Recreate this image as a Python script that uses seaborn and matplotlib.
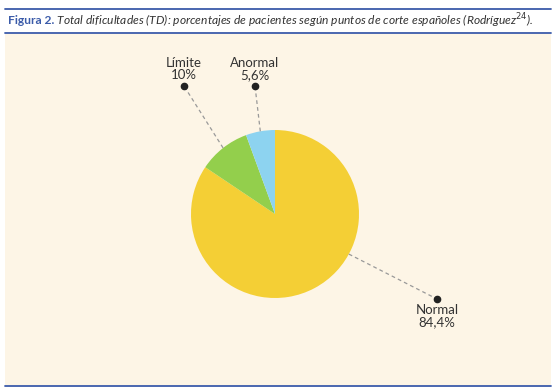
import numpy as np
import matplotlib
matplotlib.use("Agg")
import matplotlib.pyplot as plt
from matplotlib.lines import Line2D
from matplotlib.patches import Rectangle
import seaborn as sns

sns.set_theme(style="white")
plt.rcParams['font.family'] = ['Lato', 'DejaVu Sans']

# data
categories = ['Normal', 'Límite', 'Anormal']
values = [84.4, 10.0, 5.6]
value_labels = ['84,4%', '10%', '5,6%']
colors = ['#F4CF35', '#93CF4C', '#8DD3F0']

title_bold = 'Figura 2.'
title_rest = ' Total dificultades (TD): porcentajes de pacientes según puntos de corte españoles (Rodríguez$^{24}$).'

W, H = 557, 392
fig = plt.figure(figsize=(W / 100, H / 100), dpi=100)
fig.patch.set_facecolor('white')

blue = '#3B5BA9'
# cream panel and rules (pixel coords from top)
fig.add_artist(Rectangle((5 / W, 1 - 385 / H), 546 / W, 351 / H, transform=fig.transFigure,
                         facecolor='#FDF5E6', edgecolor='none', zorder=0))
for yy in [9, 33, 386]:
    fig.add_artist(Line2D([5 / W, 551 / W], [1 - yy / H, 1 - yy / H], color=blue, lw=1.3))

# title: shrink font so it spans roughly 8..533 px like the reference
fs = 9.5
t1 = fig.text(8 / W, 1 - 21 / H, title_bold, color=blue, fontsize=fs, fontweight='bold', va='center')
t2 = fig.text(0, 1 - 21 / H, title_rest, color='#333333', fontsize=fs, style='italic', va='center')
for _ in range(3):
    fig.canvas.draw()
    b1 = t1.get_window_extent()
    t2.set_x(b1.x1 / W)
    fig.canvas.draw()
    b2 = t2.get_window_extent()
    scale = (533 - 8) / (b2.x1 - b1.x0)
    fs = fs * scale
    t1.set_fontsize(fs)
    t2.set_fontsize(fs)
fig.canvas.draw()
t2.set_x(t1.get_window_extent().x1 / W)

# pie axes: 1 unit = 84 px, center at (275, 214)
R = 84.0
cx, cy = 275, 214
ax = fig.add_axes([0, 0, 1, 1])
ax.patch.set_alpha(0)

wedges, _ = ax.pie(values, colors=colors, startangle=90, counterclock=False, radius=1,
                   wedgeprops=dict(linewidth=0))
ax.set_xlim(-cx / R, (W - cx) / R)
ax.set_ylim(-(H - cy) / R, cy / R)
ax.set_aspect('equal')
ax.axis('off')

# label anchors: fraction of each wedge where the leader touches it, and text placement
anchor_frac = [0.61, 0.5, 0.5]
text_pos = [(437, 299), (184, 86), (255, 86)]
for w, frac, (px, py), cat, lab in zip(wedges, anchor_frac, text_pos, categories, value_labels):
    ang = np.deg2rad(w.theta1 + (w.theta2 - w.theta1) * frac)
    ex, ey = np.cos(ang), np.sin(ang)
    tx, ty = (px - cx) / R, (cy - py) / R
    ax.plot([ex, tx], [ey, ty], ls=(0, (3, 2.5)), color='#999999', lw=0.9, zorder=3)
    ax.plot(tx, ty, 'o', color='#222222', ms=4.5, zorder=4)
    if cat == 'Normal':
        ax.text(tx, ty - 5 / R, cat + '\n' + lab, ha='center', va='top', fontsize=9.5,
                color='#333333', linespacing=1.0)
    else:
        ax.text(tx, ty + 5 / R, cat + '\n' + lab, ha='center', va='bottom', fontsize=9.5,
                color='#333333', linespacing=1.0)

fig.savefig('out.png', dpi=100, facecolor=fig.get_facecolor())
